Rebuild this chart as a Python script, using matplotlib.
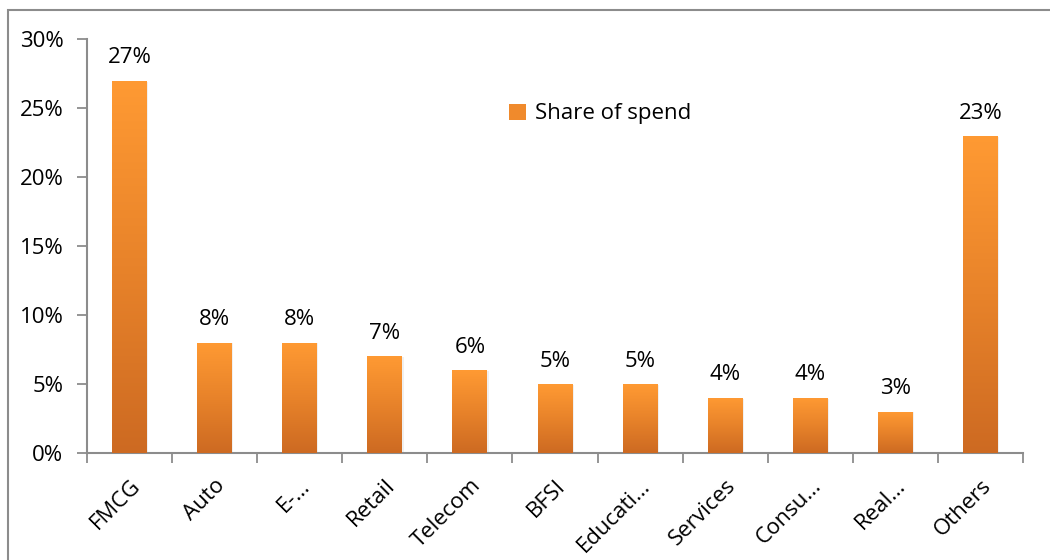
import numpy as np
import matplotlib
matplotlib.use('Agg')
import matplotlib.pyplot as plt
from matplotlib.patches import Rectangle
from matplotlib.colors import LinearSegmentedColormap
from matplotlib.ticker import PercentFormatter, FixedLocator

plt.rcParams['font.family'] = ['Open Sans', 'DejaVu Sans']

# 各行业的广告花费占比
categories = ['FMCG', 'Auto', 'E-…', 'Retail', 'Telecom', 'BFSI', 'Educati…',
              'Services', 'Consu…', 'Real…', 'Others']
share = [27, 8, 8, 7, 6, 5, 5, 4, 4, 3, 23]
series_name = 'Share of spend'

# 橙色渐变：底部深，顶部浅
grad = LinearSegmentedColormap.from_list('orange_grad', ['#CD6A22', '#E8832A', '#FF9A33'])
axis_grey = '#8C8C8C'

fig = plt.figure(figsize=(10.5, 5.6), dpi=100)
ax = fig.add_axes([0.0829, 0.1911, 0.8914, 0.7384])

x = np.arange(len(categories))
width = 0.41
bars = ax.bar(x, share, width=width, color='none', edgecolor='none', zorder=3,
              label=series_name)

gradient = np.linspace(0, 1, 256).reshape(-1, 1)
for b, v in zip(bars, share):
    x0 = b.get_x()
    # 轻微阴影
    ax.add_patch(Rectangle((x0 + 0.015, 0), width, v - 0.05, color='#000000',
                           alpha=0.06, zorder=2, lw=0))
    im = ax.imshow(gradient, cmap=grad, aspect='auto', origin='lower',
                   extent=(x0, x0 + width, 0, v), zorder=3)
    im.set_clip_path(b)
    ax.text(b.get_x() + width / 2, v + 0.9, f'{v}%', ha='center', va='bottom',
            fontsize=16, color='#000000', zorder=4)

ax.set_xlim(-0.5, len(categories) - 0.5)
ax.set_ylim(0, 30)
ax.yaxis.set_major_formatter(PercentFormatter(decimals=0))
ax.set_yticks(np.arange(0, 31, 5))

ax.set_xticks(x)
ax.set_xticklabels(categories, rotation=45, ha='right', rotation_mode='anchor',
                   fontsize=16)
ax.xaxis.set_minor_locator(FixedLocator(np.arange(-0.5, len(categories), 1)))
ax.tick_params(axis='x', which='major', length=0, pad=16)
ax.tick_params(axis='x', which='minor', length=7, width=1.3, color=axis_grey)
ax.tick_params(axis='y', length=7, width=1.3, color=axis_grey, labelsize=16, pad=10)

for s in ['top', 'right']:
    ax.spines[s].set_visible(False)
for s in ['left', 'bottom']:
    ax.spines[s].set_color(axis_grey)
    ax.spines[s].set_linewidth(1.5)

# 图例
leg_handle = Rectangle((0, 0), 1, 1, facecolor='#F08A2C', edgecolor='none')
ax.legend([leg_handle], [series_name], loc='center', bbox_to_anchor=(0.548, 0.82),
          frameon=False, fontsize=16, handlelength=0.75, handleheight=0.75,
          handletextpad=0.4)

# 外框
fig.add_artist(Rectangle((8 / 1050, -0.1), 1.2, 1 - 10 / 560 + 0.1,
                         transform=fig.transFigure, fill=False,
                         edgecolor=axis_grey, linewidth=1.5))

fig.savefig('out.png', dpi=100)
